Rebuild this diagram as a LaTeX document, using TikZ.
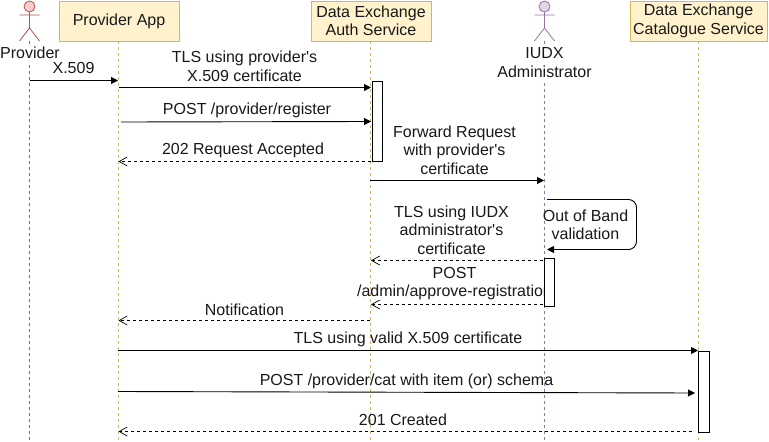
\documentclass[tikz,border=0pt]{standalone}
\usepackage{fontspec}
\newfontfamily\arialish{Liberation Sans}
\usetikzlibrary{arrows.meta}
\definecolor{yfill}{HTML}{FFF2CC}
\definecolor{ydraw}{HTML}{D6B656}
\definecolor{rfill}{HTML}{F8CECC}
\definecolor{rdraw}{HTML}{B85450}
\definecolor{pfill}{HTML}{E1D5E7}
\definecolor{pdraw}{HTML}{9673A6}
\tikzset{
  x=1pt,y=-1pt,
  every node/.style={font=\arialish\fontsize{16}{18.5}\selectfont,inner sep=0pt,align=center,text=black!90},
  head/.style={draw=ydraw,fill=yfill,line width=1pt,minimum height=40pt,anchor=north west},
  lifey/.style={draw=ydraw,line width=.8pt,dash pattern=on 3pt off 3pt},
  lifer/.style={draw=rdraw,line width=.8pt,dash pattern=on 3pt off 3pt},
  lifep/.style={draw=pdraw,line width=.8pt,dash pattern=on 3pt off 3pt},
  msg/.style={draw=black,line width=.9pt,-{Triangle[length=7pt,width=7pt]}},
  ret/.style={draw=black,line width=.8pt,dash pattern=on 3pt off 3pt,-{Straight Barb[length=8pt,width=9pt,line width=.7pt]}},
  act/.style={draw=black,fill=white,line width=1pt,anchor=north west,minimum width=10pt},
  lbl/.style={anchor=center},
}
\newcommand{\actorfig}[4]{%
  \draw[draw=#3,fill=#4,line width=.8pt] (#1,#2+5.5) circle (5.5);
  \draw[draw=#3,line width=.8pt] (#1,#2+11) -- (#1,#2+27) (#1-10,#2+14) -- (#1+10,#2+14)
    (#1,#2+27) -- (#1-10,#2+40) (#1,#2+27) -- (#1+10,#2+40);
}
\begin{document}
\begin{tikzpicture}
\useasboundingbox (0,0) rectangle (769,442);
\fill[white] (0,0) rectangle (769,442);
% lifelines
\coordinate (ptop) at (29.5,41); \coordinate (pbot) at (29.5,441);
\coordinate (atop) at (118.5,41); \coordinate (abot) at (118.5,441);
\coordinate (stop) at (370.5,41); \coordinate (sbot) at (370.5,441);
\coordinate (itop) at (544.5,41); \coordinate (ibot) at (544.5,441);
\coordinate (ctop) at (698.5,41); \coordinate (cbot) at (698.5,441);
\draw[lifer] (ptop) -- (pbot);
\draw[lifey] (atop) -- (abot);
\draw[lifey] (stop) -- (sbot);
\draw[lifep] (itop) -- (ibot);
\draw[lifey] (ctop) -- (cbot);
% heads
\actorfig{29.5}{1}{rdraw}{rfill}
\actorfig{544.5}{1}{pdraw}{pfill}
\fill[white] (0,45) rectangle (62,62);
\fill[white] (495,45) rectangle (595,81);
\node (provider) at (30,53) {Provider};
\node (admin) at (544.5,62.5) {IUDX\\Administrator};
\node[head,minimum width=120pt] (app) at (58.5,0.5) {Provider App};
\node[head,minimum width=120pt] (auth) at (310.5,0.5) {Data Exchange\\Auth Service};
\node[head,minimum width=137pt] (cat) at (629.5,0.5) {Data Exchange\\Catalogue Service};
% text clipped by activation
\node[lbl] (t8) at (454.5,283.5) {POST\\/admin/approve-registration};
% activations
\node[act,minimum height=80pt] (b1) at (371.5,80.5) {};
\node[act,minimum height=48pt] (b2) at (543.5,257.5) {};
\node[act,minimum height=81pt,minimum width=11pt] (b3) at (698,350.5) {};
% anchors for connectors
\coordinate (m1a) at (29.5,80.5); \coordinate (m1b) at (118,80.5);
\coordinate (m2a) at (118.5,87.5); \coordinate (m2b) at (371,87.5);
\coordinate (m3a) at (121,122); \coordinate (m3b) at (371,121.5);
\coordinate (m4a) at (371,161.5); \coordinate (m4b) at (118.5,161.5);
\coordinate (m5a) at (370,180.5); \coordinate (m5b) at (544,180.5);
\coordinate (m6a) at (547,199.5); \coordinate (m6b) at (547,249.5);
\coordinate (m7a) at (543,260.5); \coordinate (m7b) at (371,260.5);
\coordinate (m8a) at (543,304.5); \coordinate (m8b) at (371,304.5);
\coordinate (m9a) at (370,320.5); \coordinate (m9b) at (118.5,320.5);
\coordinate (m10a) at (118,350.5); \coordinate (m10b) at (698,350.5);
\coordinate (m11a) at (118,391.5); \coordinate (m11b) at (695,393);
\coordinate (m12a) at (692,431.5); \coordinate (m12b) at (118.5,431.5);
% messages
\draw[msg] (m1a) -- (m1b);
\draw[msg] (m2a) -- (m2b);
\draw[msg] (m3a) -- (m3b);
\draw[ret] (m4a) -- (m4b);
\draw[msg] (m5a) -- (m5b);
\draw[msg,rounded corners=8pt] (m6a) -- (636.5,199.5) -- (636.5,249.5) -- (m6b);
\draw[ret] (m7a) -- (m7b);
\draw[ret] (m8a) -- (m8b);
\draw[ret] (m9a) -- (m9b);
\draw[msg] (m10a) -- (m10b);
\draw[msg] (m11a) -- (m11b);
\draw[ret] (m12a) -- (m12b);
% labels
\node[lbl] (t1) at (73.5,68) {X.509};
\node[lbl] (t2) at (244.5,66.5) {TLS using provider's\\X.509 certificate};
\node[lbl] (t3) at (247,110.5) {POST /provider/register};
\node[lbl] (t4) at (243,150) {202 Request Accepted};
\node[lbl] (t5) at (454.5,150) {Forward Request\\with provider's\\certificate};
\node[lbl] (t6) at (585.5,225) {Out of Band\\validation};
\node[lbl] (t7) at (451.5,230) {TLS using IUDX\\administrator's\\certificate};
\node[lbl] (t9) at (244.5,309.5) {Notification};
\node[lbl] (t10) at (408,339.5) {TLS using valid X.509 certificate};
\node[lbl] (t11) at (406.5,381.5) {POST /provider/cat with item (or) schema};
\node[lbl] (t12) at (403,420) {201 Created};
\end{tikzpicture}
\end{document}
